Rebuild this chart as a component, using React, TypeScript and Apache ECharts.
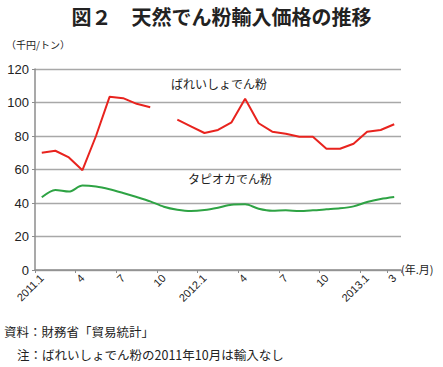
import React, { useEffect, useRef } from "react";
import * as echarts from "echarts";

const months = [
  "2011.1", "2", "3", "4", "5", "6", "7", "8", "9", "10", "11", "12",
  "2012.1", "2", "3", "4", "5", "6", "7", "8", "9", "10", "11", "12",
  "2013.1", "2", "3",
];
const potato: (number | null)[] = [
  70, 71.2, 67.2, 59.6, 80, 103.4, 102.6, 99.2, 97.2, null, 89.8, 85.8,
  81.8, 83.6, 88.2, 102.2, 87.6, 82.6, 81.4, 79.6, 79.6, 72.4, 72.4, 75.4,
  82.6, 83.6, 87,
];
const tapioca = [
  43.4, 47.8, 46.8, 50.4, 49.8, 48.2, 46, 43.6, 41, 37.8, 36, 35.2,
  35.8, 37.2, 39, 39.2, 36.6, 35.4, 35.6, 35.2, 35.6, 36.2, 36.8, 38,
  40.6, 42.4, 43.6,
];
const yTicks = { min: 0, max: 120, interval: 20 };

const JP = '"Noto Sans CJK JP", sans-serif';
const NUM = '"Liberation Sans", "Noto Sans CJK JP", sans-serif';

export default function App() {
  const ref = useRef<HTMLDivElement>(null);
  useEffect(() => {
    if (!ref.current) return;
    const chart = echarts.init(ref.current, undefined, { renderer: "svg" });
    chart.setOption({
      animation: false,
      backgroundColor: "#fff",
      grid: { left: 35, right: 42, top: 69, bottom: 97, containLabel: false },
      xAxis: {
        type: "category",
        data: months,
        boundaryGap: true,
        axisLine: { lineStyle: { color: "#8c8c8c", width: 1.5 } },
        axisTick: { show: true, length: 3, lineStyle: { color: "#8c8c8c" } },
        axisLabel: {
          interval: (i: number) => i % 3 === 0 || i === months.length - 1,
          rotate: 45,
          color: "#222",
          fontSize: 11,
          fontFamily: NUM,
          margin: 6,
        },
      },
      yAxis: {
        type: "value",
        min: yTicks.min,
        max: yTicks.max,
        interval: yTicks.interval,
        axisLine: { show: true, lineStyle: { color: "#8c8c8c", width: 1.5 } },
        axisTick: { show: true, length: 3, lineStyle: { color: "#8c8c8c" } },
        axisLabel: { color: "#222", fontSize: 13, fontFamily: NUM, margin: 6 },
        splitLine: { lineStyle: { color: "#a8a8a8", width: 1.3 } },
      },
      series: [
        {
          name: "ばれいしょでん粉",
          type: "line",
          data: potato,
          connectNulls: false,
          symbol: "none",
          lineStyle: { color: "#e8231e", width: 2 },
          itemStyle: { color: "#e8231e" },
        },
        {
          name: "タピオカでん粉",
          type: "line",
          data: tapioca,
          smooth: 0.3,
          symbol: "none",
          lineStyle: { color: "#2ea344", width: 2 },
          itemStyle: { color: "#2ea344" },
        },
      ],
      graphic: [
        {
          type: "text", left: "center", top: 6,
          style: { text: "図２　天然でん粉輸入価格の推移", font: `bold 20px ${JP}`, fill: "#222" },
        },
        {
          type: "text", left: 6, top: 39,
          style: { text: "（千円/トン）", font: `10px ${JP}`, fill: "#222" },
        },
        {
          type: "text", left: 171, top: 77,
          style: { text: "ばれいしょでん粉", font: `12px ${JP}`, fill: "#222" },
        },
        {
          type: "text", left: 188, top: 172,
          style: { text: "タピオカでん粉", font: `12px ${JP}`, fill: "#222" },
        },
        {
          type: "text", left: 401, top: 263,
          style: { text: "(年.月)", font: `11px ${JP}`, fill: "#222" },
        },
        {
          type: "text", left: 4, top: 325,
          style: { text: "資料：財務省「貿易統計」", font: `12.5px ${JP}`, fill: "#222" },
        },
        {
          type: "text", left: 17, top: 348,
          style: { text: "注：ばれいしょでん粉の2011年10月は輸入なし", font: `12.5px ${JP}`, fill: "#222" },
        },
      ],
    });
    return () => chart.dispose();
  }, []);
  return <div ref={ref} style={{ width: 443, height: 367, position: "absolute", left: 0, top: 0 }} />;
}
